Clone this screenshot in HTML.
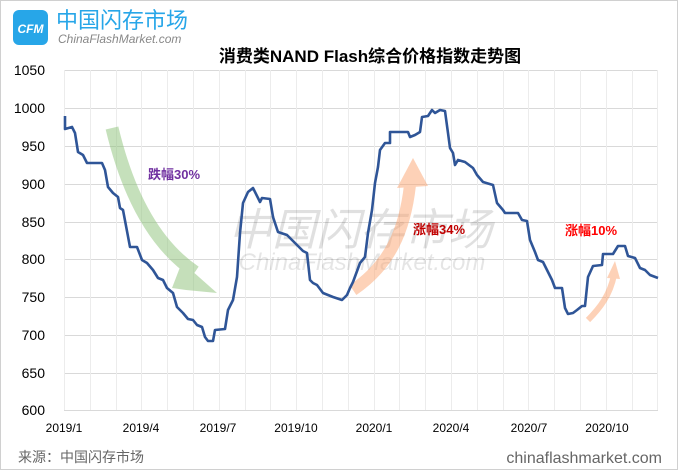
<!DOCTYPE html>
<html><head><meta charset="utf-8"><style>
html,body{margin:0;padding:0;background:#fff}
body{width:678px;height:470px;overflow:hidden;position:relative;font-family:"Liberation Sans","Noto Sans CJK SC",sans-serif}
</style></head><body>
<svg width="678" height="470" viewBox="0 0 678 470" xmlns="http://www.w3.org/2000/svg" style="position:absolute;left:0;top:0">
<rect x="0.5" y="0.5" width="677" height="469" fill="#fff" stroke="#d0d0d0"/>
<rect x="13" y="10" width="35" height="35" rx="6" fill="#27a6e8"/>
<text x="30.5" y="33" font-size="12" font-weight="bold" fill="#fff" text-anchor="middle" font-style="italic">CFM</text>
<text x="56" y="28" font-size="22" fill="#27a6e8" font-family="Noto Sans CJK SC, sans-serif">中国闪存市场</text>
<text x="58" y="43" font-size="12" fill="#888" font-style="italic">ChinaFlashMarket.com</text>
<text x="370" y="62" font-size="17" font-weight="bold" fill="#000" text-anchor="middle" font-family="Liberation Sans, Noto Sans CJK SC, sans-serif">消费类NAND Flash综合价格指数走势图</text>
<g stroke="#d9d9d9" stroke-width="1">
<line x1="64" x2="658" y1="70.5" y2="70.5"/><line x1="64" x2="658" y1="108.5" y2="108.5"/><line x1="64" x2="658" y1="146.5" y2="146.5"/><line x1="64" x2="658" y1="184.5" y2="184.5"/><line x1="64" x2="658" y1="222.5" y2="222.5"/><line x1="64" x2="658" y1="259.5" y2="259.5"/><line x1="64" x2="658" y1="297.5" y2="297.5"/><line x1="64" x2="658" y1="335.5" y2="335.5"/><line x1="64" x2="658" y1="373.5" y2="373.5"/><line x1="64" x2="658" y1="410.5" y2="410.5"/>
</g>
<g stroke="#ececec" stroke-width="1" id="vg"></g>
<g font-size="14" fill="#000" text-anchor="end">
<text x="45" y="75">1050</text><text x="45" y="113">1000</text><text x="45" y="151">950</text><text x="45" y="189">900</text><text x="45" y="227">850</text><text x="45" y="264">800</text><text x="45" y="302">750</text><text x="45" y="340">700</text><text x="45" y="378">650</text><text x="45" y="415">600</text>
</g>
<g font-size="12" fill="#000" text-anchor="middle">
<text x="64" y="432">2019/1</text><text x="141" y="432">2019/4</text><text x="218" y="432">2019/7</text><text x="296" y="432">2019/10</text><text x="374" y="432">2020/1</text><text x="451" y="432">2020/4</text><text x="529" y="432">2020/7</text><text x="607" y="432">2020/10</text>
</g>
<text x="360" y="245" font-size="44" fill="#000" fill-opacity="0.12" text-anchor="middle" font-style="italic" font-family="Noto Sans CJK SC, sans-serif">中国闪存市场</text>
<text x="362" y="270" font-size="24" fill="#000" fill-opacity="0.1" text-anchor="middle" font-style="italic">ChinaFlashMarket.com</text>
<g opacity="0.5">
<path d="M112,128 C128,195 155,245 195,272" fill="none" stroke="#8cc178" stroke-width="13"/>
<polygon points="182,262 217,293 186,290 172,288" fill="#8cc178"/>
<path d="M353,290 C390,265 405,230 410,185" fill="none" stroke="#fca571" stroke-width="12"/>
<polygon points="397,188 413,158 428,186" fill="#fca571"/>
<path d="M588,320 C600,308 610,295 614,275" fill="none" stroke="#fca571" stroke-width="6"/>
<polygon points="607,278 615,261 620,279" fill="#fca571"/>
</g>
<text x="148" y="179" font-size="13" font-weight="bold" fill="#7030a0" font-family="Liberation Sans, Noto Sans CJK SC, sans-serif">跌幅30%</text>
<text x="413" y="234" font-size="13" font-weight="bold" fill="#c00000" font-family="Liberation Sans, Noto Sans CJK SC, sans-serif">涨幅34%</text>
<text x="565" y="235" font-size="13" font-weight="bold" fill="#ff0000" font-family="Liberation Sans, Noto Sans CJK SC, sans-serif">涨幅10%</text>
<polyline fill="none" stroke="#2f5597" stroke-width="2.6" stroke-linejoin="round" points="65,116 65,129 72,127 75,133 78,152 83,155 87,163 102,163 105,170 108,187 113,193 118,197 120,208 123,210 130,247 137,247 142,260 147,263 153,270 158,278 163,280 167,288 173,293 177,307 183,313 188,319 193,320 197,325 202,327 205,337 208,341 213,341 215,330 225,329 228,310 233,300 237,277 240,233 243,203 248,192 253,188 260,202 262,198 270,199 273,217 278,232 287,235 295,243 303,251 307,253 310,280 313,283 317,285 323,293 333,297 342,300 347,295 350,288 353,282 360,263 365,257 368,233 372,210 375,183 378,167 380,150 385,143 390,143 390,132 408,132 410,137 415,135 420,132 422,117 428,116 432,110 435,113 440,110 445,111 448,133 450,148 453,153 455,165 458,160 465,162 473,168 477,175 483,182 493,185 497,203 503,210 505,213 518,213 522,220 527,221 530,240 535,252 538,260 543,262 547,270 552,280 555,288 562,288 565,308 568,314 573,313 577,310 582,306 585,306 588,277 593,266 602,265 603,254 613,254 618,246 625,246 628,256 635,258 640,268 645,270 650,275 658,278"/>
<text x="18" y="462" font-size="14" fill="#666" font-family="Liberation Sans, Noto Sans CJK SC, sans-serif">来源：中国闪存市场</text>
<text x="662" y="463" font-size="16" fill="#666" text-anchor="end">chinaflashmarket.com</text>
</svg>
<script>
var g=document.getElementById('vg');
for(var i=0;i<=23;i++){var x=Math.round(64+i*25.8)+0.5;var l=document.createElementNS('http://www.w3.org/2000/svg','line');l.setAttribute('x1',x);l.setAttribute('x2',x);l.setAttribute('y1',70);l.setAttribute('y2',410);g.appendChild(l);}
</script>
</body></html>
